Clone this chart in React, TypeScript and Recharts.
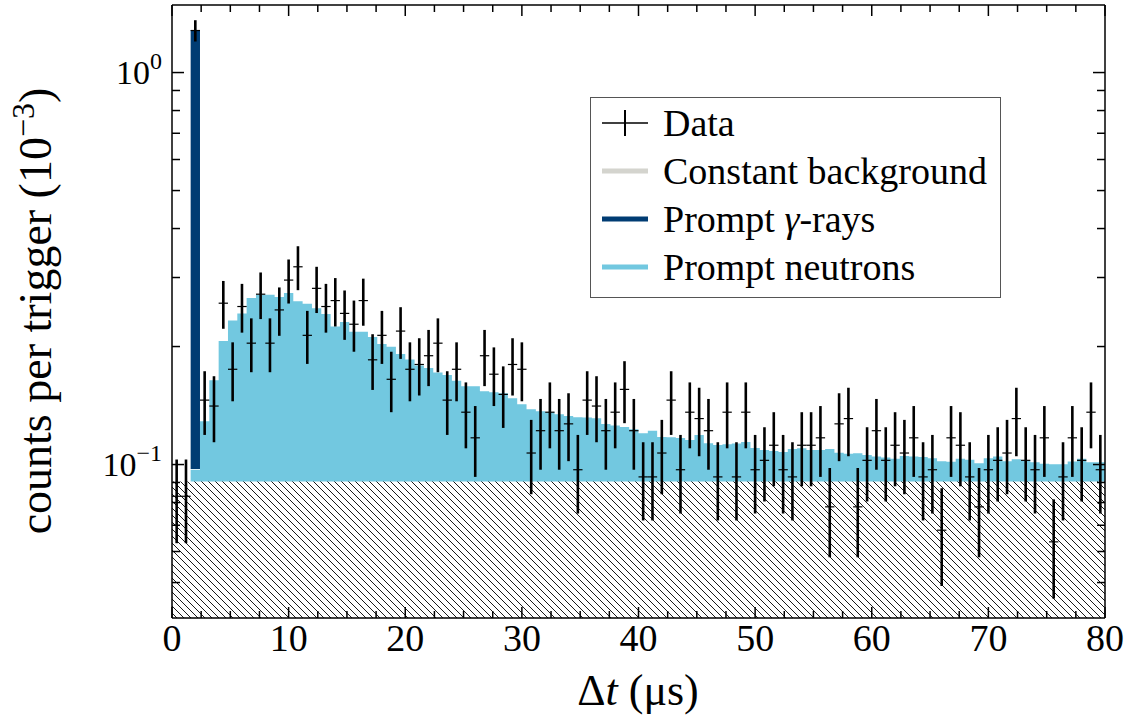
import React from "react";
import {
  ComposedChart,
  Area,
  Scatter,
  ErrorBar,
  XAxis,
  YAxis,
  Legend,
} from "recharts";

const SERIF = "'Liberation Serif', 'DejaVu Serif', serif";

const BIN_WIDTH = 0.8; // µs
const N_BINS = 100;

// measured counts per trigger (10^-3), one per 0.8 µs bin
const dataCounts = [
  0.083, 0.083, 1.28, 0.146, 0.141, 0.258, 0.175, 0.253, 0.204, 0.272,
  0.204, 0.248, 0.2955, 0.3195, 0.2136, 0.2815, 0.253, 0.262, 0.243, 0.228,
  0.262, 0.185, 0.2136, 0.165, 0.219, 0.175, 0.18, 0.1895, 0.204, 0.146,
  0.175, 0.136, 0.117, 0.1895, 0.17, 0.151, 0.18, 0.175, 0.107, 0.122,
  0.136, 0.122, 0.127, 0.097, 0.146, 0.141, 0.122, 0.136, 0.1555, 0.122,
  0.093, 0.093, 0.107, 0.146, 0.097, 0.136, 0.131, 0.122, 0.093, 0.136,
  0.093, 0.136, 0.097, 0.1025, 0.112, 0.097, 0.093, 0.112, 0.112, 0.117,
  0.078, 0.127, 0.131, 0.078, 0.1025, 0.122, 0.1025, 0.112, 0.107, 0.117,
  0.093, 0.097, 0.068, 0.117, 0.112, 0.093, 0.078, 0.097, 0.1025, 0.107,
  0.131, 0.1025, 0.097, 0.117, 0.0635, 0.093, 0.117, 0.1025, 0.136, 0.097,
];

const dataErrors = [
  0.02, 0.02, 0.08, 0.027, 0.027, 0.036, 0.03, 0.036, 0.032, 0.037,
  0.032, 0.035, 0.038, 0.041, 0.033, 0.038, 0.036, 0.037, 0.035, 0.034,
  0.036, 0.03, 0.033, 0.029, 0.033, 0.03, 0.03, 0.031, 0.032, 0.027,
  0.03, 0.026, 0.024, 0.031, 0.029, 0.027, 0.03, 0.03, 0.023, 0.025,
  0.026, 0.025, 0.025, 0.022, 0.027, 0.027, 0.025, 0.026, 0.028, 0.025,
  0.021, 0.021, 0.023, 0.027, 0.022, 0.026, 0.026, 0.025, 0.021, 0.026,
  0.021, 0.026, 0.022, 0.022, 0.024, 0.022, 0.021, 0.024, 0.024, 0.024,
  0.02, 0.025, 0.026, 0.02, 0.022, 0.025, 0.022, 0.024, 0.023, 0.024,
  0.021, 0.022, 0.019, 0.024, 0.024, 0.021, 0.02, 0.022, 0.022, 0.023,
  0.026, 0.022, 0.022, 0.024, 0.018, 0.021, 0.024, 0.022, 0.026, 0.022,
];

// background + prompt neutrons (top of the light blue histogram)
const neutronTotal = [
  null, null, 0.097, 0.129, 0.164, 0.2065, 0.233, 0.243, 0.266, 0.271,
  0.271, 0.2675, 0.274, 0.261, 0.257, 0.2505, 0.242, 0.225, 0.231, 0.218,
  0.218, 0.2115, 0.203, 0.1998, 0.1914, 0.1854, 0.1788, 0.1764, 0.1716, 0.1692,
  0.1636, 0.1584, 0.1584, 0.1539, 0.1528, 0.1519, 0.1476, 0.1425, 0.1384, 0.1368,
  0.136, 0.1344, 0.1329, 0.1321, 0.1318, 0.1313, 0.1268, 0.1257, 0.1246, 0.1231,
  0.1201, 0.122, 0.1176, 0.1174, 0.1169, 0.1155, 0.1189, 0.1134, 0.1121, 0.1127,
  0.1132, 0.1141, 0.1102, 0.1089, 0.1083, 0.1077, 0.1095, 0.11, 0.1089, 0.1089,
  0.1095, 0.1071, 0.1065, 0.1068, 0.1058, 0.1048, 0.1042, 0.1034, 0.1052, 0.1048,
  0.1046, 0.1038, 0.1019, 0.1016, 0.1034, 0.1028, 0.1008, 0.1038, 0.1049, 0.102,
  0.1032, 0.1022, 0.1013, 0.1004, 0.1002, 0.1002, 0.1018, 0.1034, 0.1014, 0.1014,
];

// prompt gamma-ray peak (single bin)
const gammaBin = 2;
const gammaLow = 0.0974;
const gammaHigh = 1.284;

const constantBackground = 0.0905;

const xTicks = [
  0, 2.5, 5, 7.5, 10, 12.5, 15, 17.5, 20, 22.5, 25, 27.5, 30, 32.5, 35, 37.5,
  40, 42.5, 45, 47.5, 50, 52.5, 55, 57.5, 60, 62.5, 65, 67.5, 70, 72.5, 75,
  77.5, 80,
];
const yTicks = [
  0.05, 0.06, 0.07, 0.08, 0.09, 0.1, 0.2, 0.3, 0.4, 0.5, 0.6, 0.7, 0.8, 0.9, 1,
];
const yDomain = [0.0406, 1.487];

// histogram rows at bin edges (step after)
const histRows = Array.from({ length: N_BINS + 1 }, (_, i) => {
  const b = Math.min(i, N_BINS - 1);
  return {
    x: +(i * BIN_WIDTH).toFixed(1),
    bg: constantBackground,
    model: neutronTotal[b],
    gamma: i === gammaBin || i === gammaBin + 1 ? [gammaLow, gammaHigh] : null,
  };
});

const points = dataCounts.map((v, i) => ({
  x: +((i + 0.5) * BIN_WIDTH).toFixed(2),
  y: v,
  err: dataErrors[i],
  xerr: BIN_WIDTH / 2,
}));

const COLORS = {
  gamma: "#003c73",
  neutron: "#72c8e0",
  background: "#d4d4ce",
};

const BottomTick = (props: any) => {
  const { x, y, payload } = props;
  const major = payload.value % 10 === 0;
  return (
    <g>
      <line x1={x} x2={x} y1={y} y2={y - (major ? 11 : 7)} stroke="#000" strokeWidth={1.5} />
      {major && (
        <text x={x} y={y + 33} textAnchor="middle" fontFamily={SERIF} fontSize={38} fill="#000">
          {payload.value}
        </text>
      )}
    </g>
  );
};

const TopTick = (props: any) => {
  const { x, y, payload } = props;
  const major = payload.value % 10 === 0;
  return <line x1={x} x2={x} y1={y} y2={y + (major ? 11 : 7)} stroke="#000" strokeWidth={1.5} />;
};

const LeftTick = (props: any) => {
  const { x, y, payload } = props;
  const v = payload.value;
  const major = v === 1 || v === 0.1;
  return (
    <g>
      <line x1={x} x2={x + (major ? 12 : 8)} y1={y} y2={y} stroke="#000" strokeWidth={1.5} />
      {major && (
        <text x={x - 10} y={y + 11} textAnchor="end" fontFamily={SERIF} fontSize={34} fill="#000">
          10
          <tspan dy={-15} fontSize={24}>
            {v === 1 ? "0" : "\u22121"}
          </tspan>
        </text>
      )}
    </g>
  );
};

const RightTick = (props: any) => {
  const { x, y, payload } = props;
  const v = payload.value;
  const major = v === 1 || v === 0.1;
  return <line x1={x} x2={x - (major ? 12 : 8)} y1={y} y2={y} stroke="#000" strokeWidth={1.5} />;
};

const XTitle = () => (
  <text x={638} y={705} textAnchor="middle" fontFamily={SERIF} fontSize={44} fill="#000">
    Δ<tspan fontStyle="italic">t</tspan> (μs)
  </text>
);

const YTitle = () => (
  <text
    x={51}
    y={311}
    transform="rotate(-90 51 311)"
    textAnchor="middle"
    fontFamily={SERIF}
    fontSize={46}
    fill="#000"
  >
    counts per trigger (10
    <tspan dy={-17} fontSize={32}>
      −3
    </tspan>
    <tspan dy={17}>)</tspan>
  </text>
);

const legendItems = [
  { label: "Data", kind: "data" },
  { label: "Constant background", kind: "line", color: COLORS.background },
  { label: "Prompt γ-rays", kind: "line", color: COLORS.gamma },
  { label: "Prompt neutrons", kind: "line", color: COLORS.neutron },
];

const LegendBox = () => (
  <div
    style={{
      position: "relative",
      width: 411,
      height: 201,
      boxSizing: "border-box",
      border: "1.5px solid #555",
      background: "#fff",
      fontFamily: SERIF,
      fontSize: 38,
      color: "#000",
    }}
  >
    {legendItems.map((item, i) => (
      <div
        key={item.label}
        style={{
          position: "absolute",
          left: 11,
          top: 1 + i * 48,
          height: 48,
          display: "flex",
          alignItems: "center",
          whiteSpace: "nowrap",
        }}
      >
        <svg width={46} height={48} style={{ marginRight: 15 }}>
          {item.kind === "data" ? (
            <g stroke="#000">
              <line x1={0} x2={46} y1={24} y2={24} strokeWidth={1.3} />
              <line x1={23} x2={23} y1={11} y2={37} strokeWidth={2} />
            </g>
          ) : (
            <line x1={0} x2={46} y1={24} y2={24} stroke={item.color} strokeWidth={5} />
          )}
        </svg>
        <span style={{ lineHeight: 1 }}>
          {item.label === "Prompt γ-rays" ? (
            <>
              Prompt <i>γ</i>-rays
            </>
          ) : (
            item.label
          )}
        </span>
      </div>
    ))}
  </div>
);

export default function App() {
  return (
    <div style={{ position: "absolute", left: 0, top: 0, background: "#fff" }}>
      <ComposedChart
        width={1133}
        height={722}
        data={histRows}
        margin={{ top: 4, right: 27, bottom: 24, left: 72 }}
      >
        <defs>
          <pattern id="hatch" patternUnits="userSpaceOnUse" width={7} height={7}>
            <rect width={7} height={7} fill="#fff" />
            <path d="M0,0 L7,7 M-1,6 L1,8 M6,-1 L8,1" stroke="#000" strokeWidth={0.9} />
          </pattern>
        </defs>

        <XAxis
          xAxisId="b"
          type="number"
          dataKey="x"
          domain={[0, 80]}
          ticks={xTicks}
          interval={0}
          allowDataOverflow
          height={80}
          tickSize={0}
          tickMargin={0}
          tickLine={false}
          tick={<BottomTick />}
          axisLine={{ stroke: "#000", strokeWidth: 1.5 }}
          label={<XTitle />}
        />
        <XAxis
          xAxisId="t"
          orientation="top"
          type="number"
          dataKey="x"
          domain={[0, 80]}
          ticks={xTicks}
          interval={0}
          allowDataOverflow
          height={1}
          tickSize={0}
          tickMargin={0}
          tickLine={false}
          tick={<TopTick />}
          axisLine={{ stroke: "#000", strokeWidth: 1.5 }}
        />
        <YAxis
          yAxisId="l"
          type="number"
          scale="log"
          domain={yDomain}
          ticks={yTicks}
          interval={0}
          allowDataOverflow
          width={100}
          tickSize={0}
          tickMargin={0}
          tickLine={false}
          tick={<LeftTick />}
          axisLine={{ stroke: "#000", strokeWidth: 1.5 }}
          label={<YTitle />}
        />
        <YAxis
          yAxisId="r"
          orientation="right"
          type="number"
          scale="log"
          domain={yDomain}
          ticks={yTicks}
          interval={0}
          allowDataOverflow
          width={1}
          tickSize={0}
          tickMargin={0}
          tickLine={false}
          tick={<RightTick />}
          axisLine={{ stroke: "#000", strokeWidth: 1.5 }}
        />

        <Area
          xAxisId="b"
          yAxisId="l"
          type="stepAfter"
          dataKey="model"
          baseValue="dataMin"
          stroke="none"
          fill={COLORS.neutron}
          fillOpacity={1}
          dot={false}
          activeDot={false}
          isAnimationActive={false}
        />
        <Area
          xAxisId="b"
          yAxisId="l"
          type="stepAfter"
          dataKey="bg"
          baseValue="dataMin"
          stroke="none"
          fill="url(#hatch)"
          fillOpacity={1}
          dot={false}
          activeDot={false}
          isAnimationActive={false}
        />
        <Area
          xAxisId="b"
          yAxisId="l"
          type="stepAfter"
          dataKey="gamma"
          stroke="none"
          fill={COLORS.gamma}
          fillOpacity={1}
          dot={false}
          activeDot={false}
          isAnimationActive={false}
        />
        <Scatter
          xAxisId="b"
          yAxisId="l"
          data={points}
          dataKey="y"
          shape={() => <g />}
          isAnimationActive={false}
        >
          <ErrorBar dataKey="err" direction="y" width={0} stroke="#000" strokeWidth={2.6} isAnimationActive={false} />
          <ErrorBar dataKey="xerr" direction="x" width={0} stroke="#000" strokeWidth={1.2} isAnimationActive={false} />
        </Scatter>

        <Legend
          layout="vertical"
          align="center"
          verticalAlign="middle"
          content={<LegendBox />}
          wrapperStyle={{ left: 590, top: 97, width: 411, height: 201 }}
        />
      </ComposedChart>
    </div>
  );
}
